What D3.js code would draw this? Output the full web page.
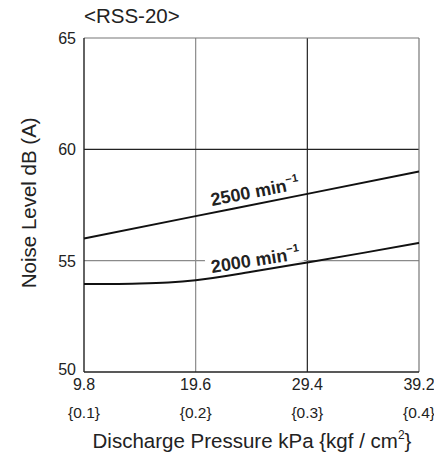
<!DOCTYPE html>
<html><head><meta charset="utf-8">
<script src="https://cdn.jsdelivr.net/npm/d3@7"></script>
<style>body{margin:0;background:#fff}svg{display:block}text{font-family:"Liberation Sans",Arial,sans-serif;fill:#222}</style>
</head><body>
<script>
const pressureKPa = [9.8, 19.6, 29.4, 39.2];
const pressureKgf = ["{0.1}", "{0.2}", "{0.3}", "{0.4}"];
const yTicks = [50, 55, 60, 65];
const s2500x = [9.8, 19.6, 29.4, 39.2];
const s2500y = [56.0, 57.0, 58.0, 59.0];
const s2000x = [9.8, 12.3, 14.7, 17.2, 19.6, 24.5, 29.4, 34.3, 39.2];
const s2000y = [53.95, 53.95, 53.97, 54.02, 54.12, 54.5, 54.92, 55.35, 55.8];

const W = 434, H = 455;
const m = {l: 84, r: 15, t: 38, b: 83};
const svg = d3.select("body").append("svg").attr("width", W).attr("height", H);
const x = d3.scaleLinear().domain([9.8, 39.2]).range([m.l, W - m.r]);
const y = d3.scaleLinear().domain([50, 65]).range([H - m.b, m.t]);

// grid
const gridX = [{v: 19.6, c: "#8a8a8a"}, {v: 29.4, c: "#222"}];
gridX.forEach(g => svg.append("line").attr("x1", x(g.v)).attr("x2", x(g.v)).attr("y1", y(50)).attr("y2", y(65)).attr("stroke", g.c).attr("stroke-width", 1.2));
const gridY = [{v: 60, c: "#222"}, {v: 55, c: "#8a8a8a"}];
gridY.forEach(g => svg.append("line").attr("x1", x(9.8)).attr("x2", x(39.2)).attr("y1", y(g.v)).attr("y2", y(g.v)).attr("stroke", g.c).attr("stroke-width", 1.2));
// frame
svg.append("line").attr("x1", x(9.8)).attr("x2", x(39.2)).attr("y1", y(65)).attr("y2", y(65)).attr("stroke", "#777").attr("stroke-width", 1.2);
svg.append("line").attr("x1", x(39.2)).attr("x2", x(39.2)).attr("y1", y(65)).attr("y2", y(50)).attr("stroke", "#777").attr("stroke-width", 1.2);
svg.append("line").attr("x1", x(9.8)).attr("x2", x(9.8)).attr("y1", y(65)).attr("y2", y(50)).attr("stroke", "#222").attr("stroke-width", 1.4);
svg.append("line").attr("x1", x(9.8)).attr("x2", x(39.2)).attr("y1", y(50)).attr("y2", y(50)).attr("stroke", "#222").attr("stroke-width", 1.4);

// y tick labels
svg.selectAll(".yt").data(yTicks).enter().append("text")
  .attr("x", 76).attr("y", d => d === 50 ? y(d) + 3 : y(d) + 6)
  .attr("text-anchor", "end").attr("font-size", 16).text(d => d);
// x tick labels
svg.selectAll(".xt").data(pressureKPa).enter().append("text")
  .attr("x", d => x(d)).attr("y", 390).attr("text-anchor", "middle").attr("font-size", 16).text(d => d.toFixed(1));
svg.selectAll(".xk").data(pressureKgf).enter().append("text")
  .attr("x", (d, i) => x(pressureKPa[i])).attr("y", 418).attr("text-anchor", "middle").attr("font-size", 15.5).text(d => d);

// titles
svg.append("text").attr("x", 84).attr("y", 23).attr("font-size", 20.5).text("<RSS-20>");
const xt = svg.append("text").attr("x", 252).attr("y", 448).attr("text-anchor", "middle").attr("font-size", 20.5);
xt.append("tspan").text("Discharge Pressure kPa {kgf / cm");
xt.append("tspan").attr("dy", -9).attr("font-size", 12).text("2");
xt.append("tspan").attr("dy", 9).text("}");
svg.append("text").attr("transform", `translate(36,${y(57.6)}) rotate(-90)`).attr("text-anchor", "middle").attr("font-size", 20.5).text("Noise Level dB (A)");

// curves
const line = d3.line().x(d => x(d[0])).y(d => y(d[1])).curve(d3.curveMonotoneX);
svg.append("path").attr("d", line(s2500x.map((v, i) => [v, s2500y[i]]))).attr("fill", "none").attr("stroke", "#111").attr("stroke-width", 2);
function label(txt, px, py, ang, bg) {
  const g = svg.append("g").attr("transform", `translate(${px},${py}) rotate(${ang})`);
  if (bg) g.append("rect").attr("x", -5).attr("y", -17).attr("width", 98).attr("height", 19).attr("fill", "#fff");
  const t = g.append("text").attr("font-size", 18).attr("font-weight", "bold");
  t.append("tspan").text(txt);
  t.append("tspan").attr("dy", -8).attr("font-size", 11).text("−1");
}
svg.append("path").attr("d", line(s2000x.map((v, i) => [v, s2000y[i]]))).attr("fill", "none").attr("stroke", "#111").attr("stroke-width", 2);
label("2500 min", 212, 206, -11, false);
label("2000 min", 212, 273, -9, true);
</script>
</body></html>
